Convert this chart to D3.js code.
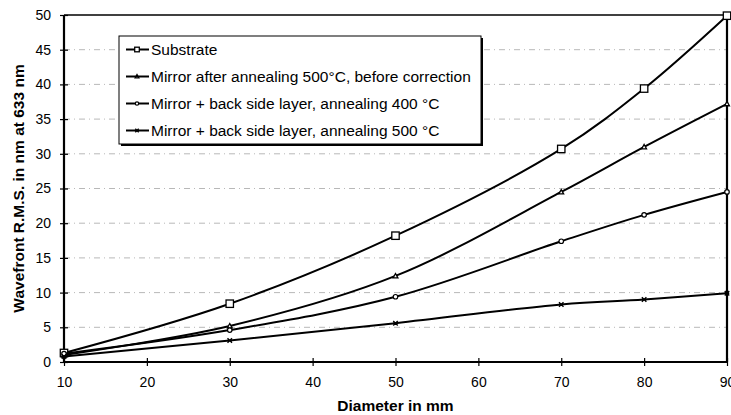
<!DOCTYPE html>
<html><head><meta charset="utf-8">
<script src="https://cdn.jsdelivr.net/npm/d3@7"></script>
<style>body{margin:0;background:#fff}svg{display:block}</style>
</head><body>
<svg id="c" width="731" height="415"></svg>
<script>
const diameters = [10, 30, 50, 70, 80, 90];
const substrate = [1.3, 8.4, 18.2, 30.7, 39.4, 49.9];
const mirror500 = [1.0, 5.2, 12.4, 24.5, 31.0, 37.2];
const back400 = [1.2, 4.6, 9.4, 17.4, 21.2, 24.5];
const back500 = [0.8, 3.1, 5.6, 8.3, 9.0, 9.9];
const seriesNames = ["Substrate", "Mirror after annealing 500°C, before correction", "Mirror + back side layer, annealing 400 °C", "Mirror + back side layer, annealing 500 °C"];
const xTicks = [10, 20, 30, 40, 50, 60, 70, 80, 90];
const yTicks = [0, 5, 10, 15, 20, 25, 30, 35, 40, 45, 50];
const markers = ["square", "triangle", "circle", "cross"];

const svg = d3.select("#c");
const L = 64, R = 727, T = 15, B = 362;
const x = d3.scaleLinear().domain([10, 90]).range([L, R]);
const y = d3.scaleLinear().domain([0, 50]).range([B, T]);
const font = "'Liberation Sans', Arial, sans-serif";

// gridlines
svg.append("g").selectAll("line").data(yTicks.filter(v => v > 0 && v < 50)).join("line")
  .attr("x1", L).attr("x2", R).attr("y1", d => y(d)).attr("y2", d => y(d))
  .attr("stroke", "#b0b0b0").attr("stroke-width", 0.9).attr("stroke-dasharray", "6,4,1,4");

// axes
const yAxis = d3.axisLeft(y).tickValues(yTicks).tickSize(4).tickPadding(9);
const gy = svg.append("g").attr("transform", `translate(${L},0)`).call(yAxis);
const xAxis = d3.axisBottom(x).tickValues(xTicks).tickSize(4).tickPadding(11);
const gx = svg.append("g").attr("transform", `translate(0,${B})`).call(xAxis);
[gy, gx].forEach(g => {
  g.select(".domain").remove();
  g.selectAll("text").attr("font-family", font).attr("font-size", 14).attr("fill", "#000");
  g.selectAll(".tick line").attr("stroke", "#000").attr("stroke-width", 1.2);
});
gy.selectAll(".tick line").attr("x1", 4);
gx.selectAll(".tick line").attr("y1", -4);

// frame
svg.append("line").attr("x1", L).attr("x2", L).attr("y1", T).attr("y2", B).attr("stroke", "#000").attr("stroke-width", 2.2);
svg.append("line").attr("x1", L).attr("x2", R).attr("y1", B).attr("y2", B).attr("stroke", "#000").attr("stroke-width", 2.2);
svg.append("line").attr("x1", L).attr("x2", R).attr("y1", T).attr("y2", T).attr("stroke", "#000").attr("stroke-width", 1.6);
svg.append("line").attr("x1", R).attr("x2", R).attr("y1", T).attr("y2", B).attr("stroke", "#000").attr("stroke-width", 2.2);

// titles
svg.append("text").attr("x", (L + R) / 2).attr("y", 411).attr("text-anchor", "middle")
  .attr("font-family", font).attr("font-size", 15.5).attr("font-weight", "bold").text("Diameter in mm");
svg.append("text").attr("transform", `translate(24,${(T + B) / 2}) rotate(-90)`).attr("text-anchor", "middle")
  .attr("font-family", font).attr("font-size", 15.5).attr("font-weight", "bold").text("Wavefront R.M.S. in nm at 633 nm");

const allSeries = [substrate, mirror500, back400, back500];
const line = d3.line().x(d => x(d[0])).y(d => y(d[1])).curve(d3.curveCatmullRom.alpha(0.5));

function drawMarker(g, type, cx, cy, s) {
  if (type === "square") {
    g.append("rect").attr("x", cx - s).attr("y", cy - s).attr("width", 2 * s).attr("height", 2 * s)
      .attr("fill", "#fff").attr("stroke", "#000").attr("stroke-width", 1.3);
  } else if (type === "triangle") {
    const r = s * 0.8;
    g.append("path").attr("d", `M${cx},${cy - r}L${cx + r},${cy + r * 0.8}L${cx - r},${cy + r * 0.8}Z`)
      .attr("fill", "#fff").attr("stroke", "#000").attr("stroke-width", 1.3);
  } else if (type === "circle") {
    g.append("circle").attr("cx", cx).attr("cy", cy).attr("r", s * 0.75)
      .attr("fill", "#fff").attr("stroke", "#000").attr("stroke-width", 1.2);
  } else {
    const r = s * 0.75;
    g.append("path").attr("d", `M${cx - r},${cy - r}L${cx + r},${cy + r}M${cx - r},${cy + r}L${cx + r},${cy - r}M${cx - r},${cy}L${cx + r},${cy}`)
      .attr("stroke", "#000").attr("stroke-width", 1.4);
  }
}

allSeries.forEach((vals, i) => {
  const pts = diameters.map((d, j) => [d, vals[j]]);
  svg.append("path").datum(pts).attr("d", line).attr("fill", "none").attr("stroke", "#000").attr("stroke-width", 2);
  const g = svg.append("g");
  pts.forEach(p => drawMarker(g, markers[i], x(p[0]), y(p[1]), i === 0 ? 3.7 : 3));
});

// legend
const lg = svg.append("g");
const lx = 119, ly = 36, lw = 362, lh = 108;
lg.append("rect").attr("x", lx + 2).attr("y", ly + 2).attr("width", lw).attr("height", lh).attr("fill", "#000");
lg.append("rect").attr("x", lx).attr("y", ly).attr("width", lw).attr("height", lh).attr("fill", "#fff").attr("stroke", "#000").attr("stroke-width", 1);
seriesNames.forEach((n, i) => {
  const cy = ly + 13.5 + i * 27;
  lg.append("line").attr("x1", lx + 7).attr("x2", lx + 30).attr("y1", cy).attr("y2", cy).attr("stroke", "#000").attr("stroke-width", 2);
  drawMarker(lg, markers[i], lx + 18, cy, 2.3);
  lg.append("text").attr("x", lx + 32).attr("y", cy).attr("dy", "0.35em").attr("font-family", font).attr("font-size", 15.5).text(n);
});
</script>
</body></html>
